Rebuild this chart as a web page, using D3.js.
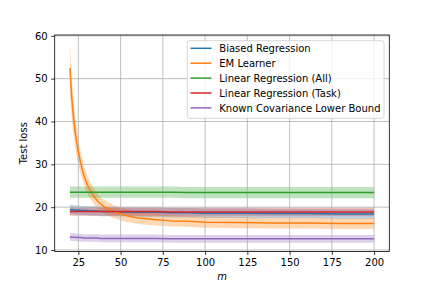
<!DOCTYPE html>
<html>
<head>
<meta charset="utf-8">
<script src="https://cdn.jsdelivr.net/npm/d3@7"></script>
<style>
  body { margin: 0; background: #fff; }
  svg { font-family: "DejaVu Sans", sans-serif; }
</style>
</head>
<body>
<div id="chart"></div>
<script>
// Data
const mValues = [20, 21, 22, 23, 24, 25, 26, 27, 28, 30, 32, 34, 36, 38, 40, 45, 50, 55, 60, 70, 80, 90, 100, 120, 140, 160, 180, 200];

const biasedMean = [19.4, 19.4, 19.4, 19.3, 19.3, 19.3, 19.3, 19.2, 19.2, 19.2, 19.1, 19.1, 19.1, 19.0, 19.0, 19.0, 18.9, 18.9, 18.8, 18.8, 18.7, 18.7, 18.6, 18.6, 18.5, 18.5, 18.4, 18.4];
const biasedStd  = [1.1, 1.1, 1.1, 1.1, 1.1, 1.1, 1.1, 1.1, 1.1, 1.1, 1.1, 1.1, 1.1, 1.1, 1.1, 1.1, 1.1, 1.1, 1.1, 1.1, 1.1, 1.1, 1.1, 1.1, 1.1, 1.1, 1.1, 1.1];

const emMean = [52.5, 46.0, 41.5, 38.0, 35.2, 33.0, 31.0, 29.3, 27.8, 25.5, 23.9, 22.6, 21.6, 20.8, 20.2, 19.1, 18.4, 17.9, 17.5, 17.1, 16.8, 16.7, 16.5, 16.4, 16.3, 16.3, 16.2, 16.2];
const emStd  = [5.8, 4.8, 4.2, 3.7, 3.3, 3.0, 2.7, 2.5, 2.3, 2.1, 1.9, 1.8, 1.7, 1.6, 1.6, 1.5, 1.5, 1.5, 1.4, 1.4, 1.3, 1.3, 1.3, 1.3, 1.3, 1.3, 1.3, 1.3];

const allMean = [23.5, 23.5, 23.5, 23.5, 23.5, 23.5, 23.5, 23.5, 23.5, 23.5, 23.5, 23.5, 23.5, 23.5, 23.5, 23.5, 23.5, 23.5, 23.5, 23.5, 23.5, 23.4, 23.4, 23.4, 23.4, 23.4, 23.4, 23.4];
const allStd  = [1.3, 1.3, 1.3, 1.3, 1.3, 1.3, 1.3, 1.3, 1.3, 1.3, 1.3, 1.3, 1.3, 1.3, 1.3, 1.3, 1.3, 1.3, 1.3, 1.3, 1.3, 1.3, 1.3, 1.3, 1.3, 1.3, 1.3, 1.3];

const taskMean = [19.0, 19.0, 19.0, 19.0, 19.0, 19.0, 19.0, 19.0, 19.0, 19.0, 19.0, 19.0, 19.0, 19.0, 19.0, 19.0, 19.0, 19.0, 19.0, 19.0, 18.9, 18.9, 18.9, 18.9, 18.9, 18.9, 18.9, 18.9];
const taskStd  = [1.0, 1.0, 1.0, 1.0, 1.0, 1.0, 1.0, 1.0, 1.0, 1.0, 1.0, 1.0, 1.0, 1.0, 1.0, 1.0, 1.0, 1.0, 1.0, 1.0, 1.0, 1.0, 1.0, 1.0, 1.0, 1.0, 1.0, 1.0];

const boundMean = [13.1, 13.0, 13.0, 13.0, 12.9, 12.9, 12.9, 12.9, 12.8, 12.8, 12.8, 12.8, 12.8, 12.7, 12.7, 12.7, 12.7, 12.7, 12.7, 12.7, 12.6, 12.6, 12.6, 12.6, 12.6, 12.6, 12.6, 12.6];
const boundStd  = [0.9, 0.9, 0.9, 0.9, 0.9, 0.9, 0.9, 0.9, 0.9, 0.9, 0.9, 0.9, 0.9, 0.9, 0.9, 0.9, 0.9, 0.9, 0.9, 0.9, 0.9, 0.9, 0.9, 0.9, 0.9, 0.9, 0.9, 0.9];

const seriesNames = ["Biased Regression", "EM Learner", "Linear Regression (All)", "Linear Regression (Task)", "Known Covariance Lower Bound"];
const seriesColors = ["#1f77b4", "#ff7f0e", "#2ca02c", "#d62728", "#9467bd"];
const xTicks = [25, 50, 75, 100, 125, 150, 175, 200];
const yTicks = [10, 20, 30, 40, 50, 60];

const series = [
    { name: seriesNames[0], color: seriesColors[0], mean: biasedMean, std: biasedStd },
    { name: seriesNames[1], color: seriesColors[1], mean: emMean, std: emStd },
    { name: seriesNames[2], color: seriesColors[2], mean: allMean, std: allStd },
    { name: seriesNames[3], color: seriesColors[3], mean: taskMean, std: taskStd },
    { name: seriesNames[4], color: seriesColors[4], mean: boundMean, std: boundStd }
];

const W = 432, H = 288;
const plot = { left: 54.7, right: 389.3, top: 35, bottom: 251.5 };

const svg = d3.select("#chart").append("svg")
    .attr("width", W)
    .attr("height", H);

const x = d3.scaleLinear().domain([11, 209]).range([plot.left, plot.right]);
const y = d3.scaleLinear().domain([9.65, 60.2]).range([plot.bottom, plot.top]);

// bands first (matplotlib puts fills below the grid)
const area = d3.area()
    .x(d => x(d.m))
    .y0(d => y(d.v - d.s))
    .y1(d => y(d.v + d.s));
const line = d3.line()
    .x(d => x(d.m))
    .y(d => y(d.v));

const rows = s => mValues.map((m, i) => ({ m: m, v: s.mean[i], s: s.std[i] }));

const clip = svg.append("clipPath").attr("id", "clip")
    .append("rect")
    .attr("x", plot.left).attr("y", plot.top)
    .attr("width", plot.right - plot.left).attr("height", plot.bottom - plot.top);

const body = svg.append("g").attr("clip-path", "url(#clip)");

series.forEach(s => {
    body.append("path")
        .attr("d", area(rows(s)))
        .attr("fill", s.color)
        .attr("fill-opacity", 0.3)
        .attr("stroke", "none");
});

// grid
const grid = body.append("g").attr("stroke", "#b0b0b0").attr("stroke-width", 0.8);
xTicks.forEach(t => {
    grid.append("line").attr("x1", x(t)).attr("x2", x(t)).attr("y1", plot.top).attr("y2", plot.bottom);
});
yTicks.forEach(t => {
    grid.append("line").attr("x1", plot.left).attr("x2", plot.right).attr("y1", y(t)).attr("y2", y(t));
});

// lines
series.forEach(s => {
    body.append("path")
        .attr("d", line(rows(s)))
        .attr("fill", "none")
        .attr("stroke", s.color)
        .attr("stroke-width", 1.5)
        .attr("stroke-linejoin", "round")
        .attr("stroke-linecap", "butt");
});

// axes
const xAxis = d3.axisBottom(x).tickValues(xTicks).tickSize(3.5).tickPadding(3.5);
const yAxis = d3.axisLeft(y).tickValues(yTicks).tickSize(3.5).tickPadding(3.5);

const gx = svg.append("g").attr("transform", `translate(0,${plot.bottom})`).call(xAxis);
const gy = svg.append("g").attr("transform", `translate(${plot.left},0)`).call(yAxis);
[gx, gy].forEach(g => {
    g.select(".domain").remove();
    g.selectAll(".tick line").attr("stroke", "#000").attr("stroke-width", 0.8);
    g.selectAll(".tick text").attr("fill", "#000").style("font-size", "10px").style("font-family", "DejaVu Sans");
});

// spines
svg.append("rect")
    .attr("x", plot.left).attr("y", plot.top)
    .attr("width", plot.right - plot.left).attr("height", plot.bottom - plot.top)
    .attr("fill", "none").attr("stroke", "#000").attr("stroke-width", 0.8);

// axis labels
svg.append("text")
    .attr("x", (plot.left + plot.right) / 2)
    .attr("y", 280)
    .attr("text-anchor", "middle")
    .style("font-size", "10px")
    .style("font-style", "italic")
    .text("m");

svg.append("text")
    .attr("transform", `translate(26.5,${(plot.top + plot.bottom) / 2}) rotate(-90)`)
    .attr("text-anchor", "middle")
    .style("font-size", "10px")
    .text("Test loss");

// legend
const legend = svg.append("g");
legend.append("rect")
    .attr("x", 187.3).attr("y", 40.7)
    .attr("width", 196.7).attr("height", 77.6)
    .attr("rx", 2.5)
    .attr("fill", "#fff").attr("fill-opacity", 0.8)
    .attr("stroke", "#cccccc").attr("stroke-width", 0.8);

series.forEach((s, i) => {
    const ly = 48.3 + i * 14.9;
    legend.append("line")
        .attr("x1", 190.5).attr("x2", 211.5)
        .attr("y1", ly).attr("y2", ly)
        .attr("stroke", s.color).attr("stroke-width", 1.5);
    legend.append("text")
        .attr("x", 219.3).attr("y", ly)
        .attr("dy", "0.36em")
        .style("font-size", "10px")
        .text(s.name);
});
</script>
</body>
</html>
